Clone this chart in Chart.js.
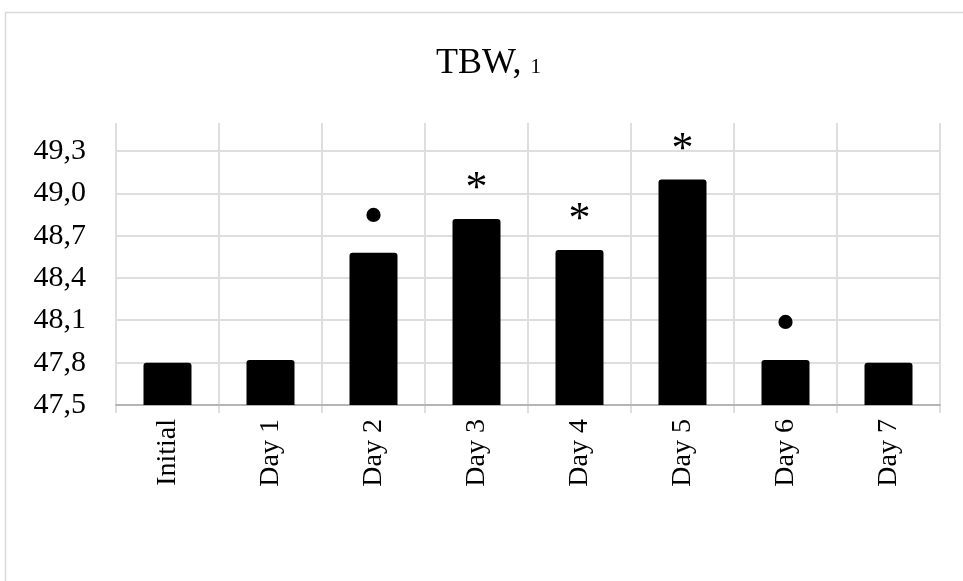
<!DOCTYPE html>
<html>
<head>
<meta charset="utf-8">
<script src="https://cdn.jsdelivr.net/npm/chart.js@4.4.1/dist/chart.umd.min.js"></script>
<style>
  html, body { margin: 0; padding: 0; background: #fff; }
  #wrap { width: 963px; height: 581px; position: relative; }
</style>
</head>
<body>
<div id="wrap"><canvas id="c"></canvas></div>
<script>
// Total body water by day
const categories = ['Initial', 'Day 1', 'Day 2', 'Day 3', 'Day 4', 'Day 5', 'Day 6', 'Day 7'];
const tbwValues = [47.80, 47.82, 48.58, 48.82, 48.60, 49.10, 47.82, 47.80];
const significance = ['', '', '•', '*', '*', '*', '•', ''];
const yTickValues = [47.5, 47.8, 48.1, 48.4, 48.7, 49.0, 49.3];
const yTickLabels = ['47,5', '47,8', '48,1', '48,4', '48,7', '49,0', '49,3'];
const titleMain = 'TBW, ';
const titleUnit = '1';

const SERIF = '"Liberation Serif", "Times New Roman", serif';
Chart.defaults.font.family = SERIF;

// White background and the thin outer frame
const framePlugin = {
  id: 'frame',
  beforeDraw(chart) {
    const ctx = chart.ctx;
    ctx.save();
    ctx.fillStyle = '#fff';
    ctx.fillRect(0, 0, chart.width, chart.height);
    ctx.strokeStyle = '#d9d9d9';
    ctx.lineWidth = 1.5;
    ctx.beginPath();
    ctx.moveTo(5.5, chart.height);
    ctx.lineTo(5.5, 12.5);
    ctx.lineTo(chart.width, 12.5);
    ctx.stroke();
    ctx.restore();
  }
};

// Title with a smaller unit glyph on the same baseline
const titlePlugin = {
  id: 'mixedTitle',
  afterDraw(chart) {
    const ctx = chart.ctx;
    ctx.save();
    const big = '36px ' + SERIF;
    const small = '21px ' + SERIF;
    ctx.font = big;
    const w1 = ctx.measureText(titleMain).width;
    ctx.font = small;
    const w2 = ctx.measureText(titleUnit).width;
    const x0 = chart.width / 2 + 7 - (w1 + w2) / 2;
    const baseline = 73;
    ctx.fillStyle = '#000';
    ctx.textAlign = 'left';
    ctx.textBaseline = 'alphabetic';
    ctx.font = big;
    ctx.fillText(titleMain, x0, baseline);
    ctx.font = small;
    ctx.fillText(titleUnit, x0 + w1, baseline);
    ctx.restore();
  }
};

// Significance markers above the bars
const markerFonts = { '•': '60px ', '*': '44px ' };
const markerPlugin = {
  id: 'markers',
  afterDatasetsDraw(chart) {
    const ctx = chart.ctx;
    const meta = chart.getDatasetMeta(0);
    ctx.save();
    ctx.fillStyle = '#000';
    ctx.textAlign = 'center';
    ctx.textBaseline = 'alphabetic';
    meta.data.forEach((bar, i) => {
      const s = significance[i];
      if (!s) return;
      ctx.font = (markerFonts[s] || '40px ') + SERIF;
      const m = ctx.measureText(s);
      const cy = bar.y - 38;
      const y = cy + (m.actualBoundingBoxAscent - m.actualBoundingBoxDescent) / 2;
      ctx.fillText(s, bar.x, y);
    });
    ctx.restore();
  }
};

new Chart(document.getElementById('c'), {
  type: 'bar',
  data: {
    labels: categories,
    datasets: [{
      data: tbwValues,
      backgroundColor: '#000',
      borderRadius: 3,
      borderSkipped: 'bottom',
      barPercentage: 0.466,
      categoryPercentage: 1
    }]
  },
  options: {
    responsive: true,
    maintainAspectRatio: false,
    animation: false,
    layout: { padding: { top: 123, right: 23, left: 0, bottom: 0 } },
    plugins: {
      legend: { display: false },
      title: { display: false },
      tooltip: { enabled: false }
    },
    scales: {
      x: {
        z: 1,
        grid: { offset: true, color: '#dedede', lineWidth: 2, drawTicks: true, tickLength: 8 },
        border: { display: true, color: 'rgba(140,140,140,0.5)', width: 2 },
        ticks: { color: '#000', font: { size: 28 }, minRotation: 90, maxRotation: 90, padding: 6, autoSkip: false },
        afterFit(scale) { scale.height = 176; }
      },
      y: {
        min: 47.5,
        max: 49.5,
        grid: { color: '#dedede', lineWidth: 2, drawTicks: false },
        border: { display: false },
        ticks: {
          color: '#000',
          font: { size: 30 },
          padding: 30,
          callback: (value, index) => yTickLabels[index]
        },
        afterBuildTicks(scale) { scale.ticks = yTickValues.map(v => ({ value: v })); },
        afterFit(scale) { scale.width = 116; }
      }
    }
  },
  plugins: [framePlugin, titlePlugin, markerPlugin]
});
</script>
</body>
</html>
